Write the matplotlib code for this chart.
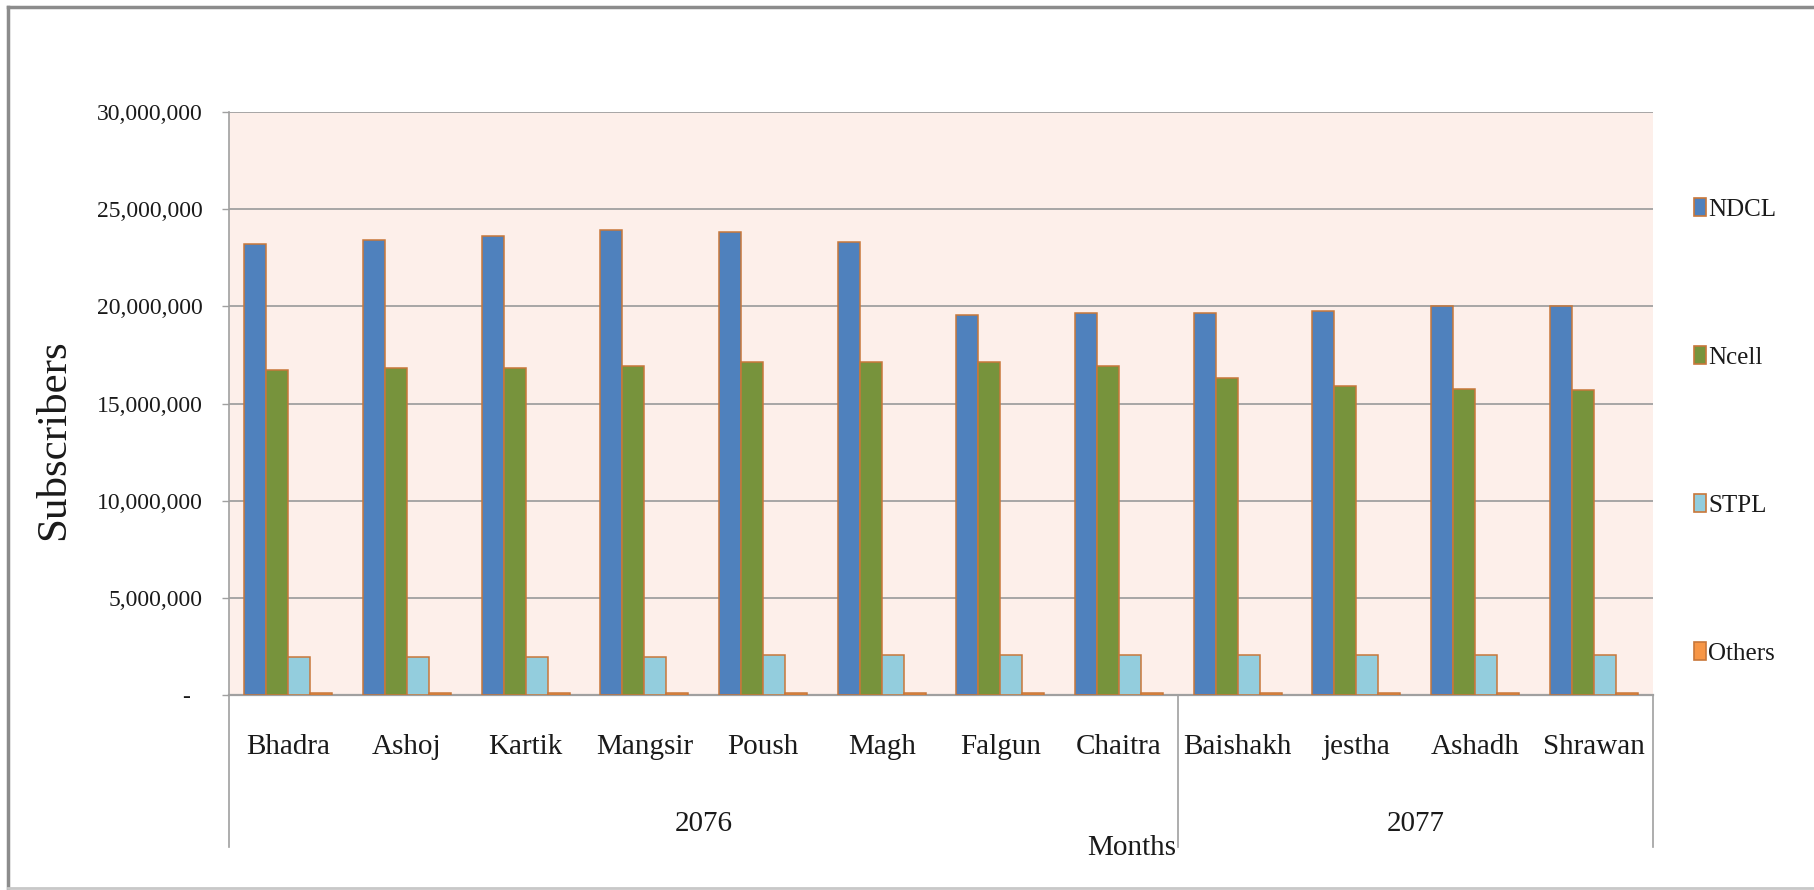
import matplotlib
matplotlib.use("Agg")
import matplotlib.pyplot as plt
from matplotlib.patches import Patch
from matplotlib.lines import Line2D
import matplotlib.transforms as mtrans
import numpy as np

plt.rcParams['font.family'] = ['Liberation Serif', 'DejaVu Serif']

months = ["Bhadra", "Ashoj", "Kartik", "Mangsir", "Poush", "Magh", "Falgun",
          "Chaitra", "Baishakh", "jestha", "Ashadh", "Shrawan"]
years = ["2076", "2077"]
year_counts = [8, 4]
series_names = ["NDCL", "Ncell", "STPL", "Others"]
ndcl = [23210000, 23420000, 23630000, 23930000, 23810000, 23300000,
        19570000, 19660000, 19660000, 19760000, 20000000, 20000000]
ncell = [16740000, 16820000, 16820000, 16940000, 17150000, 17150000,
         17150000, 16940000, 16310000, 15880000, 15770000, 15670000]
stpl = [1950000, 1950000, 1950000, 1950000, 2060000, 2060000,
        2060000, 2060000, 2060000, 2060000, 2060000, 2060000]
others = [100000] * 12
yticks = [0, 5000000, 10000000, 15000000, 20000000, 25000000, 30000000]

colors = ["#4F81BD", "#77933C", "#93CDDD", "#F79646"]
edge = "#C8773A"
grid_c = "#A0A0A0"
txt_c = "#1a1a1a"

W, H = 1815, 890
fig = plt.figure(figsize=(W / 100, H / 100), dpi=100)

# axes placement in pixels
L, R, T, B = 229, 1653, 112, 695
ax = fig.add_axes([L / W, (H - B) / H, (R - L) / W, (B - T) / H])
ax.set_facecolor("#FDEFEA")

x = np.arange(len(months))
bw = 0.185
data = [ndcl, ncell, stpl, others]
for k, (vals, c) in enumerate(zip(data, colors)):
    ax.bar(x + (k - 1.5) * bw, vals, width=bw, color=c, edgecolor=edge,
           linewidth=1.1, zorder=3)

ax.set_xlim(-0.5, len(months) - 0.5)
ax.set_ylim(0, 30000000)
ax.set_yticks(yticks)
ax.set_yticklabels([("-  " if v == 0 else f"{v:,.0f}") for v in yticks])
ax.yaxis.grid(True, color=grid_c, linewidth=1.3, zorder=1)
ax.set_axisbelow(True)
ax.tick_params(axis='y', length=5, width=1, color=grid_c, pad=14,
               labelsize=17, labelcolor=txt_c)
ax.set_xticks([])
for s in ["top", "right"]:
    ax.spines[s].set_visible(False)
ax.spines["left"].set_color(grid_c)
ax.spines["left"].set_linewidth(1.2)
ax.spines["bottom"].set_color(grid_c)
ax.spines["bottom"].set_linewidth(1.6)


def fy(ypx):
    return (H - ypx) / H


def fx(xpx):
    return xpx / W


trans = mtrans.blended_transform_factory(ax.transData, fig.transFigure)
for i, m in enumerate(months):
    ax.text(i, fy(747), m, transform=trans, ha='center', va='center',
            fontsize=21, color=txt_c)

# year group labels & separators
start = 0
bounds = [-0.5]
for yl, n in zip(years, year_counts):
    mid = start + (n - 1) / 2
    ax.text(mid, fy(824), yl, transform=trans, ha='center', va='center',
            fontsize=21, color=txt_c)
    start += n
    bounds.append(start - 0.5)
for bx in bounds:
    ax.add_line(Line2D([bx, bx], [fy(695), fy(847)], transform=trans,
                       color=grid_c, linewidth=1.2, clip_on=False))

fig.text(fx(1176), fy(848), "Months", ha='right', va='center', fontsize=21,
         color=txt_c)
fig.text(fx(54), fy(440), "Subscribers", rotation=90, ha='center',
         va='center', fontsize=31, color=txt_c)

# legend
handles = [Patch(facecolor=c, edgecolor=edge, linewidth=1.2) for c in colors]
leg = fig.legend(handles, series_names, loc='upper left',
                 bbox_to_anchor=(fx(1694), fy(198)), frameon=False,
                 fontsize=18, handlelength=0.5, handleheight=0.75,
                 handletextpad=0.08, labelspacing=5.0, borderpad=0,
                 borderaxespad=0)
for t in leg.get_texts():
    t.set_color(txt_c)

# outer chart border
fig.add_artist(Line2D([fx(8), 1.0], [fy(7), fy(7)], color="#8C8C8C",
                      linewidth=2.5))
fig.add_artist(Line2D([fx(8), fx(8)], [fy(7), fy(888)], color="#8C8C8C",
                      linewidth=2.5))
fig.add_artist(Line2D([fx(8), 1.0], [fy(888), fy(888)], color="#C8C8C8",
                      linewidth=2))

fig.savefig("out.png", dpi=100, facecolor="white")
